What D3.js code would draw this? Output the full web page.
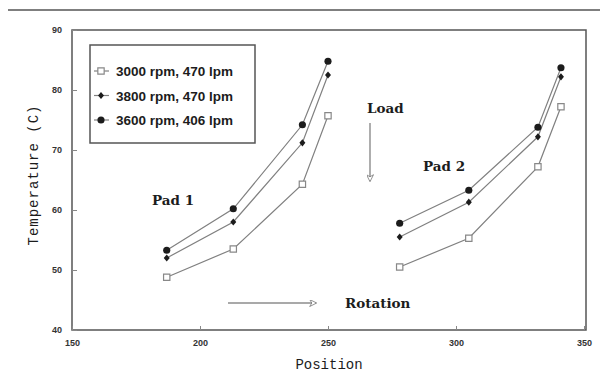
<!DOCTYPE html>
<html>
<head>
<meta charset="utf-8">
<script src="https://cdn.jsdelivr.net/npm/d3@7"></script>
<style>
    body { margin: 0; background: #ffffff; }
    svg { display: block; }
</style>
</head>
<body>
<script>

// canvas size
var canvasX = 605;
var canvasY = 376;

// plot box in pixels
var plotLeft = 72;
var plotRight = 586;
var plotTop = 30;
var plotBottom = 330;

// positions of the thermocouples on both pads
var pad1Pos = [187, 213, 240, 250];
var pad2Pos = [278, 305, 332, 341];

// temperatures per series and pad
var t3000pad1 = [48.8, 53.5, 64.3, 75.7];
var t3000pad2 = [50.5, 55.3, 67.2, 77.2];
var t3800pad1 = [52.0, 58.0, 71.2, 82.5];
var t3800pad2 = [55.5, 61.3, 72.2, 82.2];
var t3600pad1 = [53.3, 60.2, 74.2, 84.8];
var t3600pad2 = [57.8, 63.3, 73.8, 83.7];

// legend labels and tick values
var seriesNames = ["3000 rpm, 470 lpm", "3800 rpm, 470 lpm", "3600 rpm, 406 lpm"];
var xTicks = [150, 200, 250, 300, 350];
var yTicks = [40, 50, 60, 70, 80, 90];

var lineColor = "#808080";
var inkColor = "#1c1c1c";

// make svg
var svg = d3.select("body")
            .append("svg")
            .attr("width", canvasX)
            .attr("height", canvasY);

// scales
var scaleX = d3.scaleLinear().domain([150, 350]).range([plotLeft, plotRight - 2]);
var scaleY = d3.scaleLinear().domain([40, 90]).range([plotBottom, plotTop]);

// rule across the top of the page
svg.append("line")
   .attr("x1", 8).attr("x2", 600)
   .attr("y1", 10).attr("y2", 10)
   .attr("stroke", "#555")
   .attr("stroke-width", 1.5);

// plot box
svg.append("rect")
   .attr("x", plotLeft)
   .attr("y", plotTop)
   .attr("width", plotRight - plotLeft)
   .attr("height", plotBottom - plotTop)
   .attr("fill", "none")
   .attr("stroke", "#555")
   .attr("stroke-width", 1.5);

// x axis with small inward ticks
var xAxis = d3.axisBottom(scaleX)
              .tickValues(xTicks)
              .tickSizeInner(-4)
              .tickSizeOuter(0)
              .tickPadding(10)
              .tickFormat(d3.format("d"));

svg.append("g")
   .attr("transform", "translate(0," + plotBottom + ")")
   .call(xAxis)
   .call(function(g) { g.select(".domain").remove(); })
   .call(function(g) {
       g.selectAll("line").attr("stroke", "#888");
       g.selectAll("text")
        .attr("fill", "#333")
        .style("font-family", "Liberation Sans, Arial, sans-serif")
        .style("font-weight", "bold")
        .style("font-size", "9px");
   });

// y axis with small inward ticks
var yAxis = d3.axisLeft(scaleY)
              .tickValues(yTicks)
              .tickSizeInner(-5)
              .tickSizeOuter(0)
              .tickPadding(10)
              .tickFormat(d3.format("d"));

svg.append("g")
   .attr("transform", "translate(" + plotLeft + ",0)")
   .call(yAxis)
   .call(function(g) { g.select(".domain").remove(); })
   .call(function(g) {
       g.selectAll("line").attr("stroke", "#888");
       g.selectAll("text")
        .attr("fill", "#333")
        .style("font-family", "Liberation Sans, Arial, sans-serif")
        .style("font-weight", "bold")
        .style("font-size", "9px");
   });

// axis titles
svg.append("text")
   .attr("x", 329)
   .attr("y", 369)
   .attr("text-anchor", "middle")
   .attr("fill", inkColor)
   .style("font-family", "Liberation Mono, Courier New, monospace")
   .style("font-size", "14px")
   .text("Position");

svg.append("text")
   .attr("transform", "translate(38,175) rotate(-90)")
   .attr("text-anchor", "middle")
   .attr("fill", inkColor)
   .style("font-family", "Liberation Mono, Courier New, monospace")
   .style("font-size", "14px")
   .style("letter-spacing", "1px")
   .text("Temperature (C)");

// build series: each has a marker type and two pad segments
var series = [
    {name: seriesNames[0], marker: "square", pads: [[pad1Pos, t3000pad1], [pad2Pos, t3000pad2]]},
    {name: seriesNames[1], marker: "diamond", pads: [[pad1Pos, t3800pad1], [pad2Pos, t3800pad2]]},
    {name: seriesNames[2], marker: "circle", pads: [[pad1Pos, t3600pad1], [pad2Pos, t3600pad2]]}
];

var line = d3.line()
             .x(function(d) { return scaleX(d[0]); })
             .y(function(d) { return scaleY(d[1]); });

// function to draw one marker
function drawMarker(g, type) {
    if (type == "square") {
        g.append("path")
         .attr("d", d3.symbol().type(d3.symbolSquare).size(40)())
         .attr("fill", "#fff")
         .attr("stroke", "#888")
         .attr("stroke-width", 1.2);
    } else if (type == "diamond") {
        g.append("path")
         .attr("d", "M0,-3.6L3,0L0,3.6L-3,0Z")
         .attr("fill", inkColor);
    } else {
        g.append("path")
         .attr("d", d3.symbol().type(d3.symbolCircle).size(40)())
         .attr("fill", inkColor);
    }
}

// draw lines then markers
series.forEach(function(s) {
    s.pads.forEach(function(pad) {
        var pts = pad[0].map(function(p, i) { return [p, pad[1][i]]; });

        svg.append("path")
           .datum(pts)
           .attr("d", line)
           .attr("fill", "none")
           .attr("stroke", lineColor)
           .attr("stroke-width", 1.2);

        svg.selectAll(null)
           .data(pts)
           .enter()
           .append("g")
           .attr("transform", function(d) {
               return "translate(" + scaleX(d[0]) + "," + scaleY(d[1]) + ")";
           })
           .each(function() { drawMarker(d3.select(this), s.marker); });
    });
});

// legend
var legend = svg.append("g");

legend.append("rect")
      .attr("x", 90)
      .attr("y", 45)
      .attr("width", 165)
      .attr("height", 98)
      .attr("fill", "#fff")
      .attr("stroke", "#555")
      .attr("stroke-width", 1.5);

var items = legend.selectAll(".legend")
                  .data(series)
                  .enter().append("g")
                  .attr("class", "legend")
                  .attr("transform", function(d, i) { return "translate(0," + (71 + i * 24.5) + ")"; });

items.append("line")
     .attr("x1", 94).attr("x2", 109)
     .attr("y1", 0).attr("y2", 0)
     .attr("stroke", lineColor)
     .attr("stroke-width", 1.2);

items.append("g")
     .attr("transform", "translate(101,0)")
     .each(function(d) { drawMarker(d3.select(this), d.marker); });

items.append("text")
     .attr("x", 116)
     .attr("y", 5)
     .attr("fill", inkColor)
     .style("font-family", "Liberation Sans, Arial, sans-serif")
     .style("font-weight", "bold")
     .style("font-size", "13.5px")
     .text(function(d) { return d.name; });

// annotations
var serif = "DejaVu Serif, Liberation Serif, serif";

function note(x, y, txt) {
    svg.append("text")
       .attr("x", x)
       .attr("y", y)
       .attr("fill", inkColor)
       .style("font-family", serif)
       .style("font-weight", "bold")
       .style("font-size", "13.5px")
       .text(txt);
}

note(152, 205, "Pad 1");
note(423, 171, "Pad 2");
note(367, 113, "Load");
note(345, 308, "Rotation");

// arrows with open heads
svg.append("defs").append("marker")
   .attr("id", "head")
   .attr("viewBox", "0 0 10 10")
   .attr("refX", 9)
   .attr("refY", 5)
   .attr("markerWidth", 11)
   .attr("markerHeight", 7)
   .attr("markerUnits", "userSpaceOnUse")
   .attr("orient", "auto")
   .append("path")
   .attr("d", "M0,0 L10,5 L0,10 L3,5 Z")
   .attr("fill", "#fff")
   .attr("stroke", "#666")
   .attr("stroke-width", 1);

svg.append("line")
   .attr("x1", 228).attr("y1", 303)
   .attr("x2", 316).attr("y2", 303)
   .attr("stroke", "#555")
   .attr("stroke-width", 1.2)
   .attr("marker-end", "url(#head)");

svg.append("line")
   .attr("x1", 370).attr("y1", 123)
   .attr("x2", 370).attr("y2", 181)
   .attr("stroke", "#777")
   .attr("stroke-width", 1.2)
   .attr("marker-end", "url(#head)");

</script>
</body>
</html>
